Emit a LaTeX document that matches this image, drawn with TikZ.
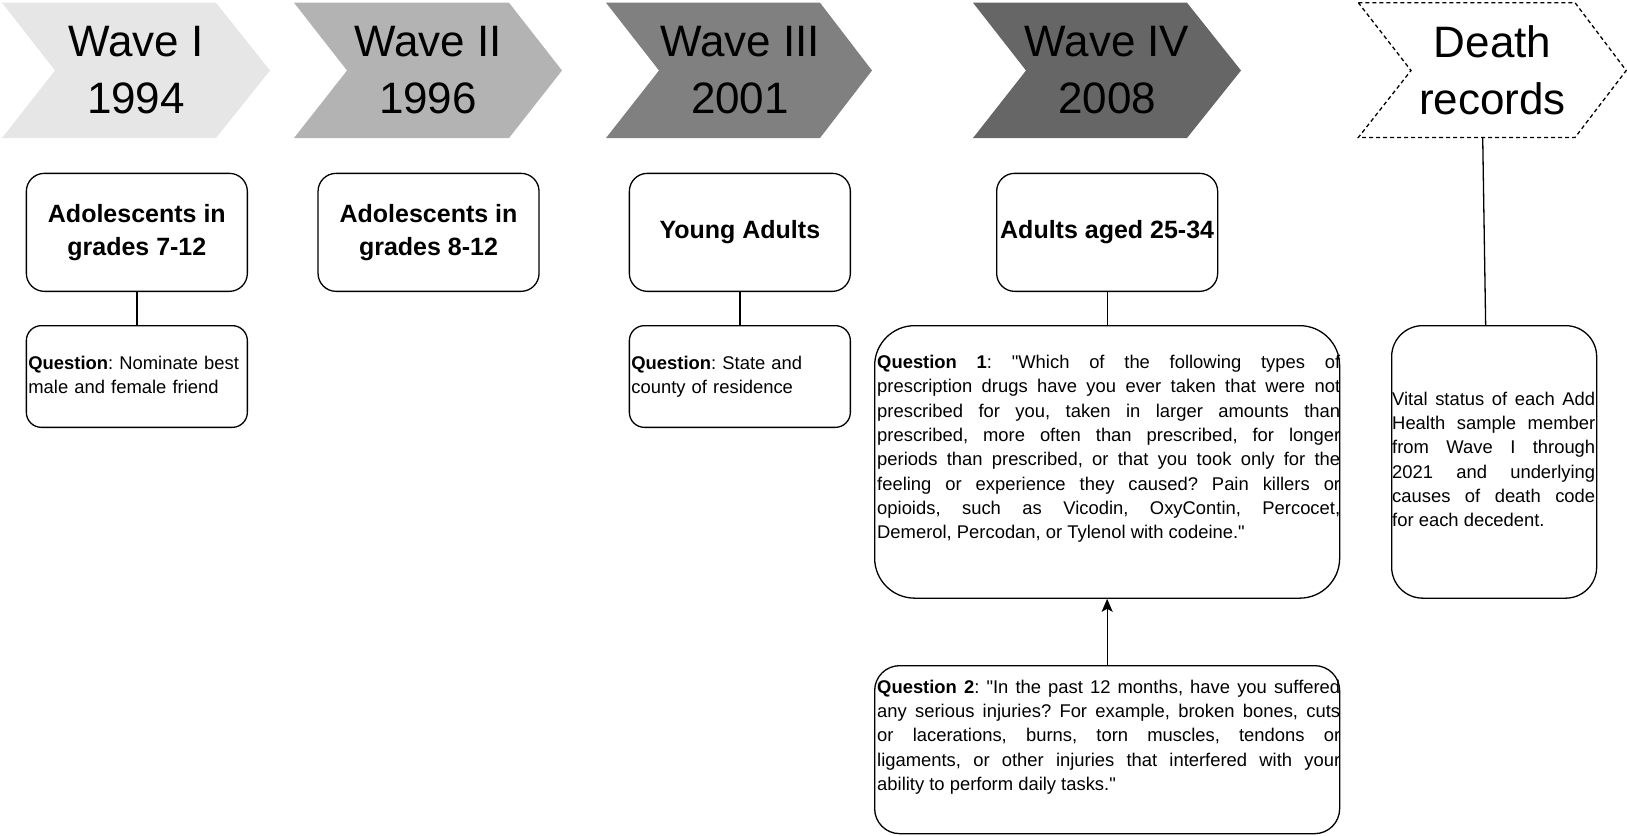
\documentclass[tikz,border=0pt]{standalone}
\usepackage{fontspec}
\setmainfont{Liberation Sans}[Ligatures=TeXOff]
\usetikzlibrary{arrows.meta,calc}
\definecolor{waveA}{HTML}{E6E6E6}
\definecolor{waveB}{HTML}{B3B3B3}
\definecolor{waveC}{HTML}{808080}
\definecolor{waveD}{HTML}{666666}
\frenchspacing
\begin{document}
\begin{tikzpicture}[x=1pt,y=-1pt,
  wavetext/.style={font=\fontsize{44}{57}\selectfont, align=center, text=black, inner sep=0pt},
  groupbox/.style={draw=black, line width=1.3pt, rounded corners=18pt, fill=white,
    minimum width=221pt, minimum height=118pt, align=center, inner sep=0pt,
    font=\bfseries\fontsize{25}{33.4}\selectfont, anchor=north west},
  qbox/.style={draw=black, line width=1.3pt, fill=white, anchor=north west, inner sep=0pt},
  qtext/.style={font=\fontsize{18.4}{24.3}\selectfont\frenchspacing, inner sep=0pt, anchor=north west},
  link/.style={line width=1.3pt, draw=black}
]
\useasboundingbox (0,0) rectangle (1627,835);

% chevrons
\path[fill=waveA] (2,2.7) -- (216,2.7) -- (270,70.5) -- (216,138) -- (2,138) -- (55,70.5) -- cycle;
\path[fill=waveB] (294,2.7) -- (509,2.7) -- (562,70.5) -- (509,138) -- (294,138) -- (347,70.5) -- cycle;
\path[fill=waveC] (606,2.7) -- (820,2.7) -- (872,70.5) -- (820,138) -- (606,138) -- (659,70.5) -- cycle;
\path[fill=waveD] (973,2.7) -- (1187,2.7) -- (1241,70.5) -- (1187,138) -- (973,138) -- (1026,70.5) -- cycle;
\draw[line width=1.3pt, dash pattern=on 4pt off 3pt, fill=white]
  (1358.3,2.7) -- (1575,2.7) -- (1626.2,70.5) -- (1575,137.5) -- (1358.3,137.5) -- (1411,70.5) -- cycle;

\node[wavetext] (w1) at (136,70.5) {Wave I\\1994};
\node[wavetext] (w2) at (428,70.5) {Wave II\\1996};
\node[wavetext] (w3) at (740,70.5) {Wave III\\2001};
\node[wavetext] (w4) at (1107,70.5) {Wave IV\\2008};
\node[wavetext] (death) at (1492.5,70) {Death\\records};
\coordinate (deathbot) at (1482.7,137.5);

% group boxes
\node[groupbox] (g1) at (25.7,172.7) {Adolescents in\\grades 7-12};
\node[groupbox] (g2) at (317.4,172.7) {Adolescents in\\grades 8-12};
\node[groupbox] (g3) at (628.7,172.7) {Young Adults};
\node[groupbox] (g4) at (996,172.7) {Adults aged 25-34};

% question boxes
\node[qbox, rounded corners=15pt, minimum width=221pt, minimum height=101.7pt] (q0) at (25.7,325) {};
\node[qbox, rounded corners=15pt, minimum width=221pt, minimum height=101.7pt] (q3) at (628.7,325) {};
\node[qbox, rounded corners=40pt, minimum width=465pt, minimum height=272.5pt] (q1) at (874,325) {};
\node[qbox, rounded corners=25pt, minimum width=465pt, minimum height=168pt] (q2) at (874,665) {};
\node[qbox, rounded corners=31pt, minimum width=205pt, minimum height=272.5pt] (vital) at (1391,325) {};

% texts
\node[qtext, text width=216pt, align=left] (t0) at ([shift={(2.5,27.2)}]q0.north west)
  {\strut\textbf{Question}: Nominate best\\male and female friend};
\node[qtext, text width=216pt, align=left] (t3) at ([shift={(2.5,27.2)}]q3.north west)
  {\strut\textbf{Question}: State and\\county of residence};
\node[qtext, text width=463pt, align=justify] (t1) at ([shift={(3,26.3)}]q1.north west)
  {\strut\textbf{Question 1}: "Which of the following types of\linebreak
  prescription drugs have you ever taken that were not\linebreak
  prescribed for you, taken in larger amounts than\linebreak
  prescribed, more often than prescribed, for longer\linebreak
  periods than prescribed, or that you took only for the\linebreak
  feeling or experience they caused? Pain killers or\linebreak
  opioids, such as Vicodin, OxyContin, Percocet,\linebreak
  Demerol, Percodan, or Tylenol with codeine."};
\node[qtext, text width=463pt, align=justify] (t2) at ([shift={(3,11)}]q2.north west)
  {\strut\textbf{Question 2}: "In the past 12 months, have you suffered\linebreak
  any serious injuries? For example, broken bones, cuts\linebreak
  or lacerations, burns, torn muscles, tendons or\linebreak
  ligaments, or other injuries that interfered with your\linebreak
  ability to perform daily tasks."};
\node[qtext, text width=203pt, align=justify] (tv) at ([shift={(1,63)}]vital.north west)
  {\strut Vital status of each Add\linebreak
  Health sample member\linebreak
  from Wave I through\linebreak
  2021 and underlying\linebreak
  causes of death code\linebreak
  for each decedent.};

% connectors
\draw[link] (g1.south) -- (q0.north);
\draw[link] (g3.south) -- (q3.north);
\draw[link] (g4.south) -- (q1.north);
\draw[link] (deathbot) -- ([xshift=-8.5pt]vital.north);
\draw[link, -{Stealth[length=13pt,width=11pt,inset=3pt]}] (q2.north) -- (q1.south);
\end{tikzpicture}
\end{document}
